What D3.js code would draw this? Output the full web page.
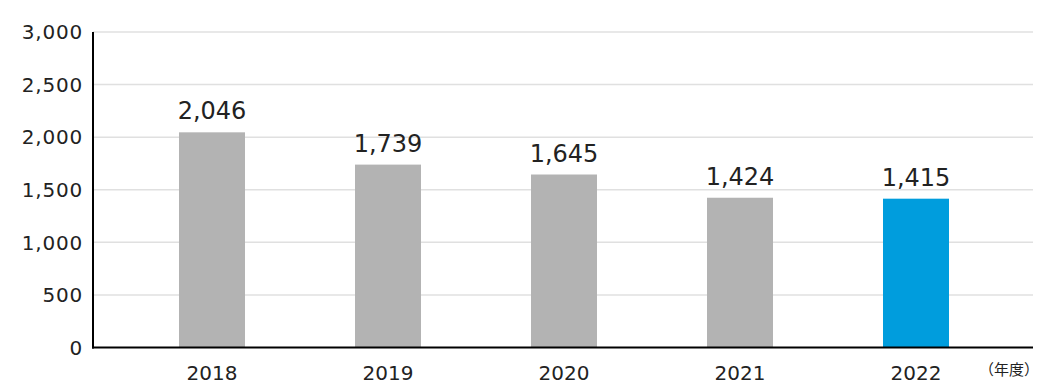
<!DOCTYPE html>
<html>
<head>
<meta charset="utf-8">
<script src="https://cdn.jsdelivr.net/npm/d3@7"></script>
<style>
  body { margin: 0; background: #fff; }
  text { font-family: "DejaVu Sans", "Noto Sans", sans-serif; fill: #222; }
  .unit { font-family: "Noto Sans CJK JP", sans-serif; }
</style>
</head>
<body>
<div id="chart"></div>
<script>
  var years = ["2018", "2019", "2020", "2021", "2022"];
  var values = [2046, 1739, 1645, 1424, 1415];
  var yTicks = [0, 500, 1000, 1500, 2000, 2500, 3000];
  var unitLabel = "（年度）";

  var width = 1040,
      height = 390,
      plotLeft = 93,
      plotRight = 1033,
      plotTop = 32,
      plotBottom = 347.5;

  var svg = d3.select("#chart")
      .append("svg")
      .attr("width", width)
      .attr("height", height);

  var x = d3.scaleBand()
      .domain(years)
      .range([124, 1004])
      .paddingInner(0.625)
      .paddingOuter(0.3125);

  var y = d3.scaleLinear()
      .domain([0, 3000])
      .range([plotBottom, plotTop]);

  // grid
  svg.selectAll(".grid")
      .data(yTicks.filter(function(d) { return d > 0; }))
    .enter().append("line")
      .attr("x1", plotLeft)
      .attr("x2", plotRight)
      .attr("y1", function(d) { return y(d); })
      .attr("y2", function(d) { return y(d); })
      .attr("stroke", "#e0e0e0")
      .attr("stroke-width", 1.5);

  // y tick labels
  svg.selectAll(".ylab")
      .data(yTicks)
    .enter().append("text")
      .attr("x", 83)
      .attr("y", function(d) { return y(d); })
      .attr("dy", "0.36em")
      .attr("text-anchor", "end")
      .style("font-size", "20px")
      .style("letter-spacing", "0.8px")
      .text(function(d) { return d3.format(",")(d); });

  // bars
  svg.selectAll(".bar")
      .data(values)
    .enter().append("rect")
      .attr("x", function(d, i) { return x(years[i]); })
      .attr("y", function(d) { return y(d); })
      .attr("width", x.bandwidth())
      .attr("height", function(d) { return y(0) - y(d); })
      .attr("fill", function(d, i) { return i === years.length - 1 ? "#009ddd" : "#b3b3b3"; });

  // value labels
  svg.selectAll(".vlab")
      .data(values)
    .enter().append("text")
      .attr("x", function(d, i) { return x(years[i]) + x.bandwidth() / 2; })
      .attr("y", function(d) { return y(d) - 13; })
      .attr("text-anchor", "middle")
      .style("font-size", "24px")
      .text(function(d) { return d3.format(",")(d); });

  // axes lines
  svg.append("line")
      .attr("x1", plotLeft).attr("x2", plotLeft)
      .attr("y1", plotTop).attr("y2", plotBottom + 1)
      .attr("stroke", "#000").attr("stroke-width", 2);
  svg.append("line")
      .attr("x1", plotLeft - 1).attr("x2", plotRight)
      .attr("y1", plotBottom).attr("y2", plotBottom)
      .attr("stroke", "#000").attr("stroke-width", 2);

  // x labels
  svg.selectAll(".xlab")
      .data(years)
    .enter().append("text")
      .attr("x", function(d) { return x(d) + x.bandwidth() / 2; })
      .attr("y", 380)
      .attr("text-anchor", "middle")
      .style("font-size", "20px")
      .text(function(d) { return d; });

  svg.append("text")
      .attr("class", "unit")
      .attr("x", 1039)
      .attr("y", 375)
      .attr("text-anchor", "end")
      .style("font-size", "15px")
      .text(unitLabel);
</script>
</body>
</html>
